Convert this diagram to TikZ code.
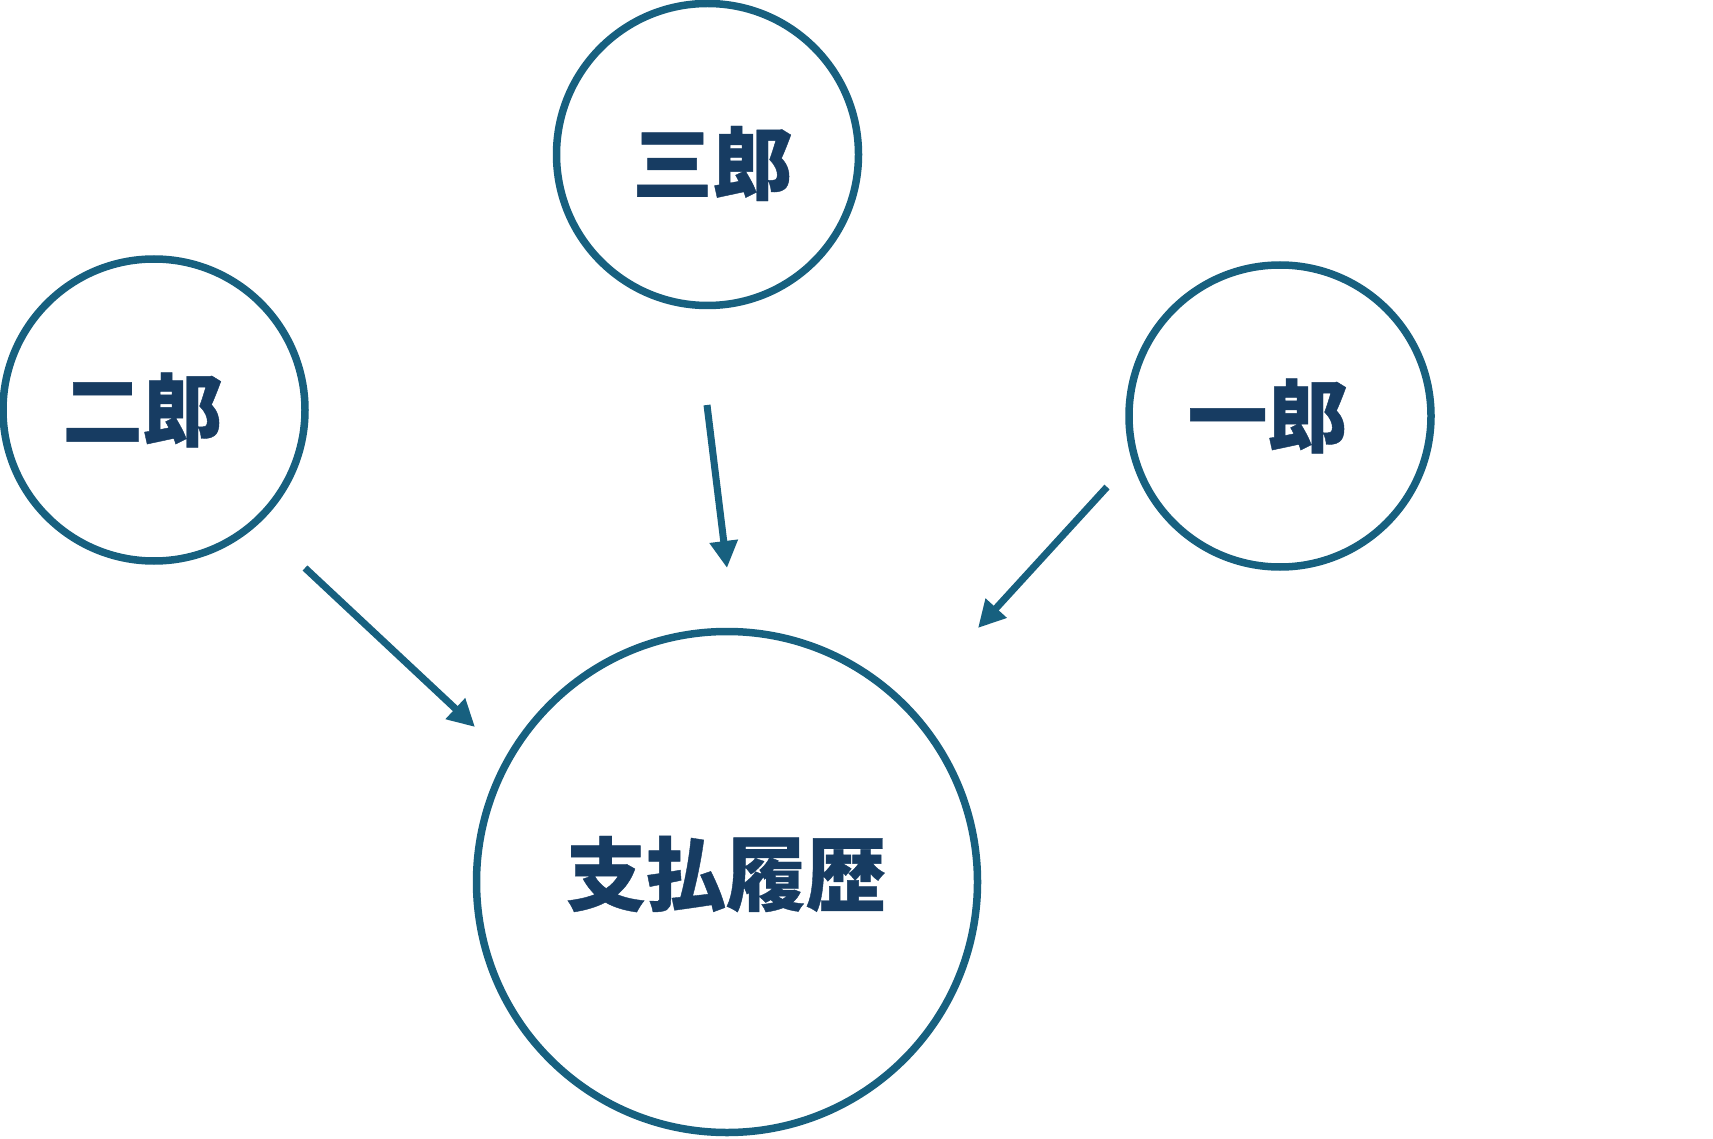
\documentclass[tikz,border=0pt]{standalone}
\usepackage{fontspec}
\usepackage{tikz}
\usetikzlibrary{arrows.meta}
\newfontfamily\cjk{Noto Sans CJK JP}[BoldFeatures={FakeBold=0.5}]
\definecolor{ring}{HTML}{17607F}
\definecolor{ink}{HTML}{173C62}
\tikzset{every picture/.style={
  >={Triangle[length=27pt,width=27pt]}   % Big filled heads.
  }
}

\begin{document}
\begin{tikzpicture}[
      x=1pt, y=-1pt,
      bub/.style={
        circle,
        draw=ring,
        line width=7.5pt,
        minimum size=#1,
        inner sep=0pt
      },
      lab/.style={
        text=ink,
        inner sep=0pt,
        font=\cjk\bfseries\fontsize{80}{96}\selectfont
      },
      link/.style={->, draw=ring, line width=7pt}]

      \useasboundingbox (0,0) rectangle (1713,1139);

      % Draw the circles and their names.
      \node[bub=302pt, label={[lab,xshift=5pt,yshift=-9pt]center:三郎}]
        (saburo) at (707.5,154.5) {};
      \node[bub=302pt, label={[lab,xshift=-11.5pt]center:二郎}]
        (jiro) at (154,410) {};
      \node[bub=302pt, label={[lab,xshift=-12.5pt]center:一郎}]
        (ichiro) at (1280,416) {};
      \node[bub=501pt, label={[lab,xshift=-1pt,yshift=8pt]center:支払履歴}]
        (rireki) at (727,882) {};

      % Free ends of the arrows.
      \coordinate (jiro-s)   at (305,568);
      \coordinate (jiro-e)   at (475,727);
      \coordinate (saburo-s) at (707,405);
      \coordinate (saburo-e) at (727,568);
      \coordinate (ichiro-s) at (1107,487);
      \coordinate (ichiro-e) at (978,628);

      % Draw the arrows.
      \draw[link] (jiro-s) -- (jiro-e);
      \draw[link] (saburo-s) -- (saburo-e);
      \draw[link] (ichiro-s) -- (ichiro-e);

    \end{tikzpicture}
\end{document}
